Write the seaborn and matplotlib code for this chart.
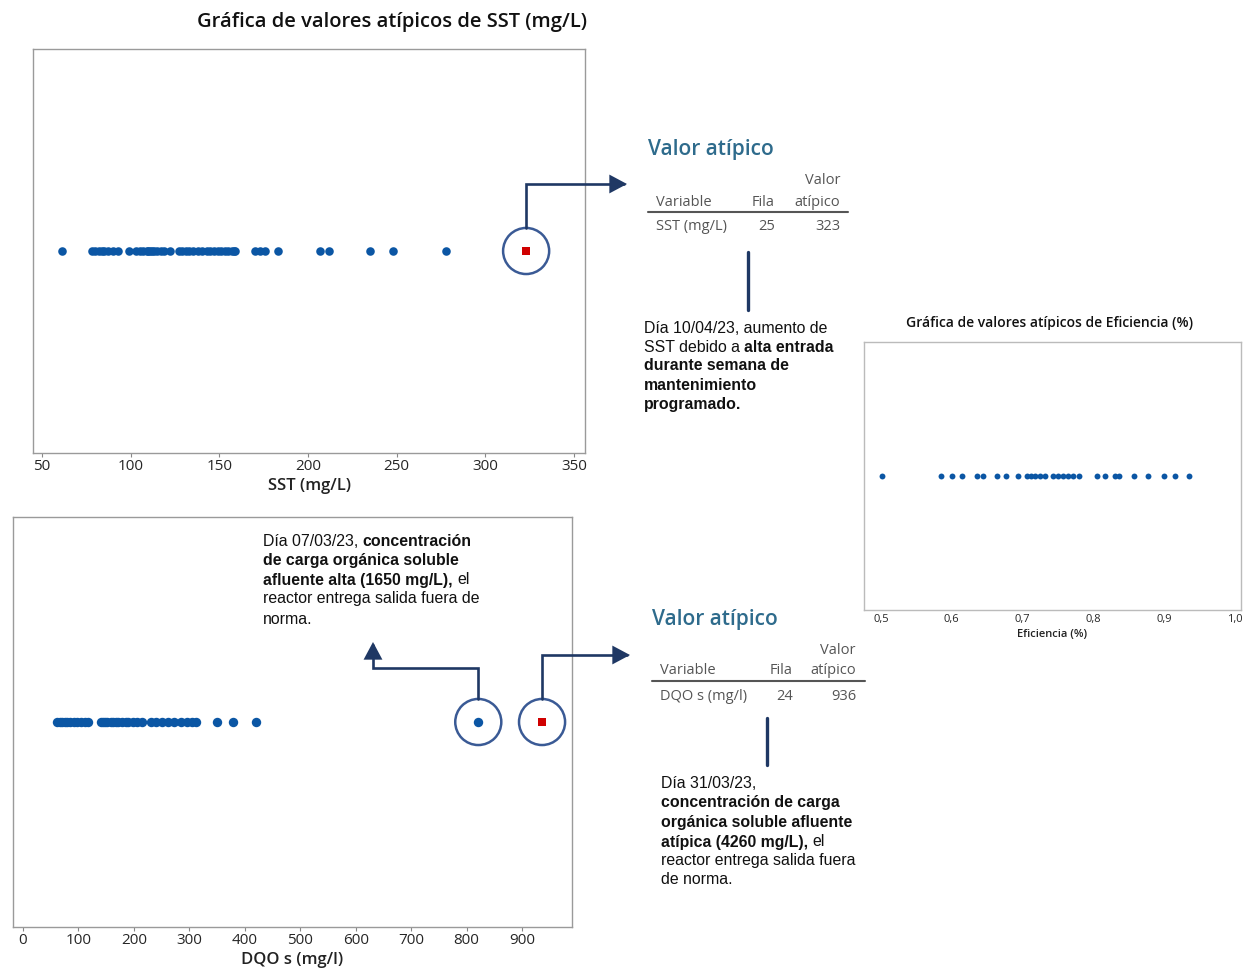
import numpy as np
import matplotlib
matplotlib.use("Agg")
import matplotlib.pyplot as plt
import seaborn as sns
from matplotlib.path import Path
from matplotlib.patches import FancyArrowPatch
from matplotlib.lines import Line2D
from matplotlib.transforms import IdentityTransform

# ================================================
# Data
# ================================================
sst_values = [61, 78, 80, 82, 84, 85, 87, 90, 93, 99, 103, 105, 107, 109, 110,
              111, 112, 113, 115, 117, 119, 122, 127, 129, 131, 133, 135, 138,
              140, 143, 145, 147, 149, 151, 153, 155, 157, 158, 159, 170, 173,
              176, 183, 207, 212, 235, 248, 278]
sst_outlier = 323
sst_ticks = [50, 100, 150, 200, 250, 300, 350]

dqo_values = [62, 66, 70, 75, 80, 85, 92, 98, 105, 112, 118, 140, 145, 148, 152,
              158, 163, 168, 172, 178, 185, 190, 198, 205, 215, 230, 240, 250,
              262, 272, 285, 295, 305, 312, 350, 378, 420]
dqo_high = 821          # circled point (not flagged by the test)
dqo_outlier = 936
dqo_ticks = [0, 100, 200, 300, 400, 500, 600, 700, 800, 900]

efic_values = [0.501, 0.585, 0.600, 0.615, 0.636, 0.644, 0.664, 0.677, 0.694,
               0.706, 0.712, 0.718, 0.725, 0.731, 0.743, 0.750, 0.757, 0.764,
               0.771, 0.779, 0.805, 0.816, 0.830, 0.836, 0.857, 0.877, 0.900,
               0.915, 0.935]
efic_ticks = [0.5, 0.6, 0.7, 0.8, 0.9, 1.0]
efic_ticklabels = ["0,5", "0,6", "0,7", "0,8", "0,9", "1,0"]

# ================================================
# Figure setup
# ================================================
W, H = 1248, 973
sns.set_theme(style="white")
plt.rcParams["font.family"] = ["Open Sans", "DejaVu Sans"]

BLUE = "#0B56A4"
RED = "#D00000"
NAVY = "#1F3864"
RING = "#3A5A95"
TEAL = "#2E6B8C"
TXT = ["Liberation Sans", "DejaVu Sans"]

fig = plt.figure(figsize=(W / 100, H / 100), dpi=100)


def add_ax(l, t, r, b):
    return fig.add_axes([l / W, 1 - b / H, (r - l) / W, (b - t) / H])


def style_ax(ax, ticks, labels, xlim, xlabel, tsize, lsize, edge):
    ax.set_xlim(xlim)
    ax.set_ylim(-1, 1)
    ax.set_yticks([])
    ax.set_xticks(ticks)
    ax.set_xticklabels(labels, fontsize=tsize, color="#262626")
    ax.set_xlabel(xlabel, fontsize=lsize, color="#222222", fontweight="semibold", labelpad=3)
    ax.set_ylabel("")
    for s in ax.spines.values():
        s.set_color(edge)
        s.set_linewidth(1)
    ax.tick_params(axis="x", bottom=True, direction="out", length=3, width=0.8,
                   color="#888888", pad=1)


def ring(ax, x, s=1100):
    ax.scatter([x], [0], s=s, facecolors="none", edgecolors=RING, linewidths=1.8,
               clip_on=False, zorder=4)


def pix(ax, x):
    # display position of a data point, origin at top-left like the reference
    dx, dy = ax.transData.transform((x, 0))
    return dx, H - dy


def poly_arrow(pts):
    # pts given with origin at top-left
    pts = [(x, H - y) for x, y in pts]
    p = FancyArrowPatch(path=Path(pts), arrowstyle="-|>,head_length=0.75,head_width=0.4",
                        mutation_scale=13, color=NAVY, linewidth=1.9,
                        transform=IdentityTransform(), joinstyle="miter")
    fig.add_artist(p)


def vbar(x, y0, y1):
    fig.add_artist(Line2D([x, x], [H - y0, H - y1], color=NAVY, linewidth=2.4,
                          transform=IdentityTransform()))


renderer = fig.canvas.get_renderer()


def rich_line(x, y, runs, size=11.4):
    a = fig.text(0, 0, "x x", fontsize=size, family=TXT)
    b = fig.text(0, 0, "xx", fontsize=size, family=TXT)
    sp = a.get_window_extent(renderer).width - b.get_window_extent(renderer).width
    a.remove()
    b.remove()
    for txt, bold in runs:
        t = fig.text(x / W, 1 - y / H, txt, fontsize=size, family=TXT,
                     fontweight="bold" if bold else "normal", color="#111111",
                     va="center", ha="left")
        x += t.get_window_extent(renderer).width + sp


def table(x0, x1, y_head, var_x, fila_x, val_x, var, fila, val, y_title):
    fig.text(x0 / W, 1 - y_title / H, "Valor atípico", fontsize=15, color=TEAL,
             va="center", ha="left", fontweight="semibold")
    kw = dict(fontsize=10.5, color="#555555", va="center")
    fig.text(val_x / W, 1 - (y_head - 21) / H, "Valor", ha="right", **kw)
    fig.text(var_x / W, 1 - y_head / H, "Variable", ha="left", **kw)
    fig.text(fila_x / W, 1 - y_head / H, "Fila", ha="right", **kw)
    fig.text(val_x / W, 1 - y_head / H, "atípico", ha="right", **kw)
    fig.add_artist(Line2D([x0, x1], [H - y_head - 10, H - y_head - 10], color="#555555",
                          linewidth=1.5, transform=IdentityTransform()))
    fig.text(var_x / W, 1 - (y_head + 25) / H, var, ha="left", **kw)
    fig.text(fila_x / W, 1 - (y_head + 25) / H, str(fila), ha="right", **kw)
    fig.text(val_x / W, 1 - (y_head + 25) / H, str(val), ha="right", **kw)


# ================================================
# SST outlier plot
# ================================================
ax1 = add_ax(33, 49, 585, 453)
sns.scatterplot(x=sst_values, y=np.zeros(len(sst_values)), color=BLUE, s=38,
                linewidth=0, ax=ax1, zorder=3)
sns.scatterplot(x=[sst_outlier], y=[0], marker="s", color=RED, s=40, linewidth=0,
                ax=ax1, zorder=3)
style_ax(ax1, sst_ticks, [str(t) for t in sst_ticks], (44.9, 356.2), "SST (mg/L)",
         11, 12, "#9a9a9a")
ring(ax1, sst_outlier)
fig.text(392 / W, 1 - 22 / H, "Gráfica de valores atípicos de SST (mg/L)",
         fontsize=14.5, fontweight="semibold", color="#111111", ha="center", va="center")

px, py = pix(ax1, sst_outlier)
poly_arrow([(px, py - 23), (px, 184), (627, 184)])
table(648, 848, 202, 656, 775, 840, "SST (mg/L)", 25, sst_outlier, 149)
vbar(748, 252, 310)

rich_line(644, 328, [("Día 10/04/23, aumento de", False)])
rich_line(644, 347, [("SST debido a", False), ("alta entrada", True)])
rich_line(644, 366, [("durante semana de", True)])
rich_line(644, 386, [("mantenimiento", True)])
rich_line(644, 405, [("programado.", True)])

# ================================================
# DQO s outlier plot
# ================================================
ax2 = add_ax(13, 517, 572, 927)
sns.scatterplot(x=dqo_values + [dqo_high], y=np.zeros(len(dqo_values) + 1), color=BLUE,
                s=46, linewidth=0, ax=ax2, zorder=3)
sns.scatterplot(x=[dqo_outlier], y=[0], marker="s", color=RED, s=40, linewidth=0,
                ax=ax2, zorder=3)
style_ax(ax2, dqo_ticks, [str(t) for t in dqo_ticks], (-18, 990), "DQO s (mg/l)",
         11, 12, "#9a9a9a")
ring(ax2, dqo_high)
ring(ax2, dqo_outlier)

rx, ry = pix(ax2, dqo_outlier)
poly_arrow([(rx, ry - 23), (rx, 655), (630, 655)])
bx, by = pix(ax2, dqo_high)
poly_arrow([(bx, by - 23), (bx, 668), (373, 668), (373, 642)])

table(652, 865, 671, 660, 793, 856, "DQO s (mg/l)", 24, dqo_outlier, 619)
vbar(767, 718, 765)

rich_line(263, 541, [("Día 07/03/23,", False), ("concentración", True)])
rich_line(263, 561, [("de carga orgánica soluble", True)])
rich_line(263, 580, [("afluente alta (1650 mg/L),", True), ("el", False)])
rich_line(263, 599, [("reactor entrega salida fuera de", False)])
rich_line(263, 619, [("norma.", False)])

rich_line(661, 784, [("Día 31/03/23,", False)])
rich_line(661, 803, [("concentración de carga", True)])
rich_line(661, 823, [("orgánica soluble afluente", True)])
rich_line(661, 842, [("atípica (4260 mg/L),", True), ("el", False)])
rich_line(661, 861, [("reactor entrega salida fuera", False)])
rich_line(661, 880, [("de norma.", False)])

# ================================================
# Eficiencia outlier plot
# ================================================
ax3 = add_ax(864, 342, 1241, 610)
sns.scatterplot(x=efic_values, y=np.zeros(len(efic_values)), color=BLUE, s=18,
                linewidth=0, ax=ax3, zorder=3)
style_ax(ax3, efic_ticks, efic_ticklabels, (0.476, 1.0085), "Eficiencia (%)",
         8, 8, "#bbbbbb")
ax3.tick_params(axis="x", length=0, pad=3)
fig.text(1049 / W, 1 - 323 / H, "Gráfica de valores atípicos de Eficiencia (%)",
         fontsize=10, fontweight="semibold", color="#111111", ha="center", va="center")

fig.savefig("out.png", dpi=100)
